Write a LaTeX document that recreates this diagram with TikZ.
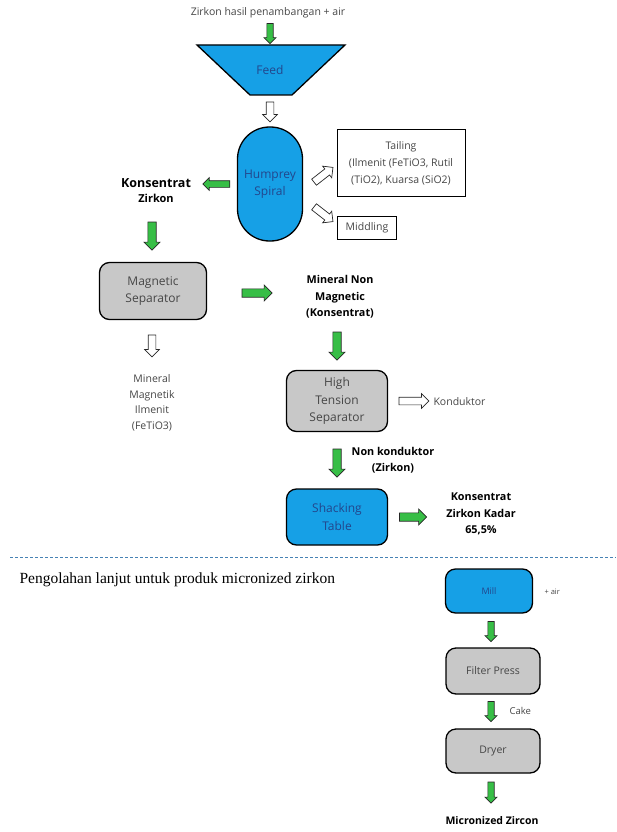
\documentclass[tikz,border=0pt]{standalone}
\usepackage{fontspec}
\setmainfont{Open Sans}
\newfontfamily\titlefont{Liberation Serif}
\usetikzlibrary{shapes,arrows}
\usetikzlibrary{shapes.arrows,positioning}

\definecolor{procblue}{RGB}{22,160,230}
\definecolor{procgray}{RGB}{200,200,200}
\definecolor{flowgreen}{RGB}{55,190,70}
\definecolor{textblue}{RGB}{35,70,140}
\definecolor{textgray}{RGB}{70,70,70}
\definecolor{cutblue}{RGB}{70,130,180}

\tikzset{
	procbox/.style={draw=black, line width=1.3pt, rounded corners=10pt, align=center,
		font=\fontsize{12}{17.5}\selectfont},
	bluebox/.style={procbox, fill=procblue, text=textblue},
	graybox/.style={procbox, fill=procgray, text=textgray},
	infobox/.style={draw=black, line width=0.8pt, align=center, text=textgray,
		font=\fontsize{10.5}{17}\selectfont},
	flowarr/.style={single arrow, draw=black!85, line width=0.7pt, inner xsep=0pt,
		inner ysep=#1, minimum width=0pt, single arrow head extend=#1},
	greenarr/.style={flowarr=3.8pt, fill=flowgreen},
	whitearr/.style={flowarr=3.5pt, fill=white},
	smallgreen/.style={flowarr=2.8pt, fill=flowgreen},
	note/.style={align=center, text=textgray, font=\fontsize{10.5}{15.5}\selectfont},
	boldnote/.style={align=center, font=\bfseries\fontsize{10.8}{16.5}\selectfont}
}

\begin{document}
\begin{tikzpicture}[x=1pt, y=-1pt]
	\useasboundingbox (0,0) rectangle (616,832);
	
	% top input
	\node[note] (input) at (268,13) {Zirkon hasil penambangan + air};
	\node[smallgreen, minimum height=20pt, rotate=-90] (a0) at (270,32) {};
	
	% feed hopper
	\coordinate (F1) at (197,45);
	\coordinate (F2) at (345,45);
	\coordinate (F3) at (292,95);
	\coordinate (F4) at (250,95);
	\draw[line width=1.3pt, fill=procblue] (F1) -- (F2) -- (F3) -- (F4) -- cycle;
	\node[text=textblue, font=\fontsize{12}{15}\selectfont] (feed) at (270,70) {Feed};
	\node[whitearr, minimum height=20pt, rotate=-90] (a1) at (270,110) {};
	
	% spiral
	\node[bluebox, rounded corners=32pt, minimum width=65pt, minimum height=114pt]
		(spiral) at (270,184) {Humprey\\Spiral};
	\node[infobox, minimum width=128pt, minimum height=67pt] (tailing) at (401,163)
		{Tailing\\(Ilmenit (FeTiO3, Rutil\\(TiO2), Kuarsa (SiO2)};
	\node[infobox, minimum width=59pt, minimum height=23pt] (middling) at (367,228) {Middling};
	\node[whitearr, minimum height=24pt, rotate=38] (a2) at (322,176) {};
	\node[whitearr, minimum height=24pt, rotate=-38] (a3) at (322,213) {};
	\node[greenarr, flowarr=3pt, minimum height=27pt, rotate=180] (a4) at (218,184) {};
	\node[boldnote, font=\bfseries\fontsize{12.5}{15}\selectfont] (kons) at (156,191)
		{Konsentrat\\{\fontsize{11}{12}\selectfont Zirkon}};
	
	% magnetic separator
	\node[greenarr, minimum height=28pt, rotate=-90] (a5) at (152,234) {};
	\node[graybox, minimum width=107pt, minimum height=57pt] (magsep) at (153,291)
		{Magnetic\\Separator};
	\node[greenarr, minimum height=30pt] (a6) at (255,293) {};
	\node[boldnote] (nonmag) at (340,297) {Mineral Non\\Magnetic\\(Konsentrat)};
	\node[whitearr, minimum height=22pt, rotate=-90] (a7) at (152,344) {};
	\node[note] (magnetik) at (152,403) {Mineral\\Magnetik\\Ilmenit\\(FeTiO3)};
	
	% high tension separator
	\node[greenarr, minimum height=28pt, rotate=-90] (a8) at (337,344) {};
	\node[graybox, minimum width=101pt, minimum height=61pt] (hts) at (337,401)
		{High\\Tension\\Separator};
	\node[whitearr, minimum height=30pt] (a9) at (412,401) {};
	\node[note, anchor=west] (kond) at (430,402) {Konduktor};
	\node[greenarr, minimum height=28pt, rotate=-90] (a10) at (337,461) {};
	\node[boldnote] (nonkond) at (393,460) {Non konduktor\\(Zirkon)};
	
	% shacking table
	\node[bluebox, minimum width=101pt, minimum height=56pt] (table) at (337,517)
		{Shacking\\Table};
	\node[greenarr, minimum height=27pt] (a11) at (411,517) {};
	\node[boldnote] (kadar) at (481,514) {Konsentrat\\Zirkon Kadar\\65,5\%};
	
	% dashed cut
	\coordinate (L1) at (10,557);
	\coordinate (L2) at (616,557);
	\draw[cutblue, dashed, dash pattern=on 3pt off 2pt, line width=0.8pt] (L1) -- (L2);
	
	% micronized zircon
	\node[anchor=west, font=\titlefont\fontsize{15.5}{17}\selectfont] (title) at (16,580)
		{Pengolahan lanjut untuk produk micronized zirkon};
	\node[bluebox, minimum width=87pt, minimum height=44pt, font=\fontsize{9}{12}\selectfont]
		(mill) at (489,591) {Mill};
	\node[note, font=\fontsize{7.5}{10}\selectfont, anchor=west] (air) at (541,592) {+ air};
	\node[smallgreen, minimum height=20pt, rotate=-90] (b1) at (491,630) {};
	\node[graybox, minimum width=94pt, minimum height=46pt, font=\fontsize{10.5}{12}\selectfont]
		(press) at (493,671) {Filter Press};
	\node[smallgreen, minimum height=20pt, rotate=-90] (b2) at (491,710) {};
	\node[note, font=\fontsize{9.5}{11}\selectfont, anchor=west] (cake) at (506,711) {Cake};
	\node[graybox, minimum width=94pt, minimum height=44pt, font=\fontsize{10.5}{12}\selectfont]
		(dryer) at (493,751) {Dryer};
	\node[smallgreen, minimum height=21pt, rotate=-90] (b3) at (491,791) {};
	\node[boldnote, font=\bfseries\fontsize{10.5}{12}\selectfont] (micro) at (492,821)
		{Micronized Zircon};
\end{tikzpicture}
\end{document}
